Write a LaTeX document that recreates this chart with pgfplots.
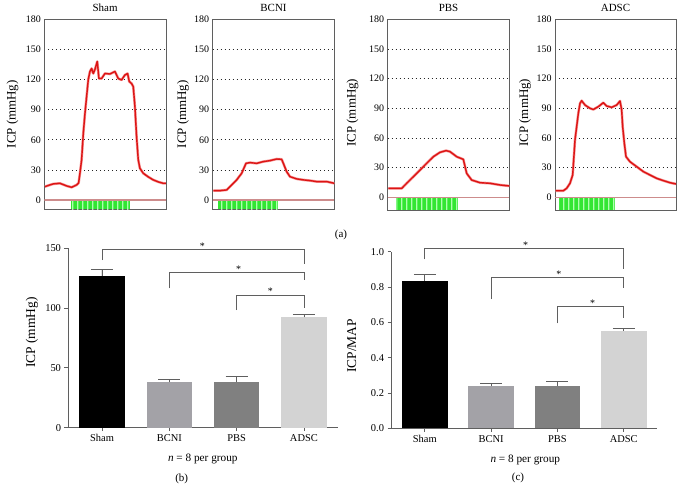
\documentclass[border=0pt]{standalone}
\usepackage{fontspec}
\setmainfont{Liberation Serif}
\usepackage{pgfplots}
\pgfplotsset{compat=1.18}
\usetikzlibrary{patterns}
\definecolor{grn}{RGB}{50,230,50}
\definecolor{grnlt}{RGB}{175,255,175}
\definecolor{halo}{RGB}{245,150,150}
\definecolor{core}{RGB}{220,20,20}
\definecolor{zeroline}{RGB}{205,140,140}
\definecolor{barA}{RGB}{0,0,0}
\definecolor{barB}{RGB}{163,162,167}
\definecolor{barC}{RGB}{128,128,128}
\definecolor{barD}{RGB}{211,211,211}
\definecolor{axg}{RGB}{95,95,95}
\pgfdeclarepatternformonly{vstripes}{\pgfpointorigin}{\pgfqpoint{4.5bp}{1bp}}{\pgfqpoint{4.5bp}{1bp}}{\pgfpathrectangle{\pgfpointorigin}{\pgfqpoint{1.6bp}{1bp}}\pgfusepath{fill}}

\pgfplotstableread{
x y
135 13.3
150 15
160 16
180 16.6
200 14
215 12.6
230 15
236 17
240 26.6
245 40
250 66
255 86
260 103
265 120
270 128
275 131
280 126
285 130
292 138
297 121
305 121
315 126
330 125.5
345 128
355 121
365 119.6
375 124.5
383 126
388 118
395 116
400 113
405 93
410 63
415 40
420 31.5
430 26.6
445 23
460 20
475 18
490 16.6
498 16.6
}\sham
\pgfplotstableread{
x y
130 9.3
150 9.3
170 10
180 13.3
200 20
215 26.6
228 36.5
240 37.2
260 36.5
280 38.2
300 39.2
320 40.8
335 40.5
340 36.5
350 28.2
360 23.2
380 21
400 20
420 19.3
440 18.3
470 18.3
493 16.6
}\bcni
\pgfplotstableread{
x y
145 9.1
185 9.1
200 14.2
220 20.9
240 27.6
260 34.4
280 41.1
300 45.5
318 47.2
330 46.2
350 41.1
370 38.4
380 24.3
395 17.5
420 14.8
450 14.2
480 12.5
508 11.5
}\pbs
\pgfplotstableread{
x y
137 6.7
160 6.7
170 9.1
180 14.2
188 22.6
195 58
200 71.5
205 85
210 95
215 97.7
225 93.3
240 90
250 88.8
265 91.7
280 95.7
290 92.3
305 91
320 93.3
330 97.4
335 88.3
338 71.5
343 54.6
348 41.1
360 36
380 31
400 26
420 22.6
440 19.2
460 16.9
480 14.8
498 13.5
}\adsc

\pgfplotsset{
  tr/.style={
    scale only axis, anchor=south west, width=121.6bp,
    ymax=180, ytick={0,30,60,90,120,150,180},
    xtick=\empty, ymajorgrids,
    grid style={black!85, line width=0.55pt, dash pattern=on 0.6pt off 3.4pt},
    major tick length=0pt,
    axis line style={axg, line width=0.7pt},
    tick label style={font=\fontsize{10}{12}\selectfont},
    title style={font=\fontsize{11}{13}\selectfont, yshift=-2pt},
    ylabel={ICP (mmHg)},
    ylabel style={font=\fontsize{13}{15}\selectfont, anchor=center},
    /pgf/number format/assume math mode=true,
    clip=true,
  },
  hl/.style={draw=halo, line width=2.6pt, line join=round},
  cr/.style={draw=core, line width=1.4pt, line join=round},
  br/.style={
    scale only axis, anchor=south west,
    axis x line*=bottom, axis y line*=left,
    axis line style={-, axg, line width=0.8pt},
    xtick={0,1,2,3}, xticklabels={Sham,BCNI,PBS,ADSC},
    tick align=outside, major tick length=3.5bp,
    tick style={axg, line width=0.8pt},
    tick label style={font=\fontsize{10.5}{12}\selectfont},
    xlabel style={font=\fontsize{11.3}{13}\selectfont},
    ylabel style={font=\fontsize{13.5}{15}\selectfont},
    xlabel={\textit{n} = 8 per group},
    /pgf/number format/assume math mode=true,
    clip=false,
  },
  eb/.style={error bars/.cd, y dir=plus, y explicit,
    error bar style={draw=axg, line width=0.8pt},
    error mark options={draw=axg, rotate=90, mark size=11bp, line width=0.8pt}},
  bb/.style={ybar, bar width=45.5bp, bar shift=0pt, draw=none, fill=#1},
}

\begin{document}
\begin{tikzpicture}
\path[use as bounding box] (0,0) rectangle (684bp,491bp);

% ---- Sham trace
\begin{axis}[tr, at={(44.3bp,281.7bp)}, height=190bp, xmin=133, xmax=498, ymin=-9.3,
  title={Sham}, ylabel style={at={(axis description cs:-0.262,0.5)}}]
\addplot[fill=grn, draw=none] coordinates {(213,-9.3) (213,-0.6) (390,-0.6) (390,-9.3)} -- cycle;
\addplot[pattern=vstripes, pattern color=grnlt, draw=none] coordinates {(214,-9.3) (214,-0.6) (390,-0.6) (390,-9.3)} -- cycle;
\addplot[draw=zeroline, line width=1.4pt] coordinates {(133,0) (498,0)};
\addplot[hl] table {\sham};
\addplot[cr] table {\sham};
\end{axis}

% ---- BCNI trace
\begin{axis}[tr, at={(212.7bp,281.7bp)}, height=190bp, xmin=128, xmax=493, ymin=-9.3,
  title={BCNI}, ylabel style={at={(axis description cs:-0.244,0.5)}}]
\addplot[fill=grn, draw=none] coordinates {(143,-9.3) (143,-0.6) (325,-0.6) (325,-9.3)} -- cycle;
\addplot[pattern=vstripes, pattern color=grnlt, draw=none] coordinates {(144,-9.3) (144,-0.6) (325,-0.6) (325,-9.3)} -- cycle;
\addplot[draw=zeroline, line width=1.4pt] coordinates {(128,0) (493,0)};
\addplot[hl] table {\bcni};
\addplot[cr] table {\bcni};
\end{axis}

% ---- PBS trace
\begin{axis}[tr, at={(387.7bp,281bp)}, height=190.7bp, xmin=143, xmax=508, ymin=-12.8,
  title={PBS}, ylabel style={at={(axis description cs:-0.29,0.51)}}]
\addplot[fill=grn, draw=none] coordinates {(168,-12.8) (168,-0.7) (355,-0.7) (355,-12.8)} -- cycle;
\addplot[pattern=vstripes, pattern color=grnlt, draw=none] coordinates {(169,-12.8) (169,-0.7) (355,-0.7) (355,-12.8)} -- cycle;
\addplot[draw=zeroline, line width=1.4pt] coordinates {(143,0) (508,0)};
\addplot[hl] table {\pbs};
\addplot[cr] table {\pbs};
\end{axis}

% ---- ADSC trace
\begin{axis}[tr, at={(555bp,281bp)}, width=121bp, height=190.7bp, xmin=135, xmax=498, ymin=-12.8,
  title={ADSC}, ylabel style={at={(axis description cs:-0.248,0.51)}}]
\addplot[fill=grn, draw=none] coordinates {(148,-12.8) (148,-0.7) (316,-0.7) (316,-12.8)} -- cycle;
\addplot[pattern=vstripes, pattern color=grnlt, draw=none] coordinates {(149,-12.8) (149,-0.7) (316,-0.7) (316,-12.8)} -- cycle;
\addplot[draw=zeroline, line width=1.4pt] coordinates {(135,0) (498,0)};
\addplot[hl] table {\adsc};
\addplot[cr] table {\adsc};
\end{axis}

\node[font=\fontsize{11}{13}\selectfont] at (341bp,256bp) {(a)};

% ---- (b) ICP bars
\begin{axis}[br, at={(68bp,63.3bp)}, width=269.6bp, height=179.4bp,
  xmin=-0.505, xmax=3.5, ymin=0, ymax=150, ytick={0,50,100,150},
  ylabel={ICP (mmHg)},
  ylabel style={at={(axis description cs:-0.134,0.53)}, anchor=center},
  xlabel style={at={(axis description cs:0.5,-0.174)}, anchor=center}]
\addplot[bb=barA, eb] coordinates {(0,126.8) +- (0,5.6)};
\addplot[bb=barB, eb] coordinates {(1,38.2) +- (0,1.8)};
\addplot[bb=barC, eb] coordinates {(2,37.9) +- (0,5.1)};
\addplot[bb=barD, eb] coordinates {(3,92.3) +- (0,2.2)};
\draw[axg, line width=0.8pt] (axis cs:0,140.2) |- (axis cs:3,149) -- (axis cs:3,136.6);
\draw[axg, line width=0.8pt] (axis cs:1,116.5) |- (axis cs:3,130) -- (axis cs:3,123.5);
\draw[axg, line width=0.8pt] (axis cs:2,98.4) |- (axis cs:3,111) -- (axis cs:3,100.4);
\node[anchor=base, inner sep=0pt, font=\fontsize{10}{12}\selectfont] at (axis cs:1.49,149) {*};
\node[anchor=base, inner sep=0pt, font=\fontsize{10}{12}\selectfont] at (axis cs:2.03,130) {*};
\node[anchor=base, inner sep=0pt, font=\fontsize{10}{12}\selectfont] at (axis cs:2.5,111) {*};
\end{axis}
\node[font=\fontsize{11}{13}\selectfont] at (181.7bp,12bp) {(b)};

% ---- (c) ICP/MAP bars
\begin{axis}[br, at={(391bp,62.7bp)}, width=265.9bp, height=176.6bp,
  xmin=-0.51, xmax=3.5, ymin=0, ymax=1.0, ytick={0,0.2,0.4,0.6,0.8,1.0},
  yticklabel style={/pgf/number format/.cd, fixed, fixed zerofill, precision=1},
  ylabel={ICP/MAP},
  ylabel style={at={(axis description cs:-0.148,0.466)}, anchor=center},
  xlabel style={at={(axis description cs:0.505,-0.18)}, anchor=center}]
\addplot[bb=barA, eb] coordinates {(0,0.834) +- (0,0.037)};
\addplot[bb=barB, eb] coordinates {(1,0.238) +- (0,0.014)};
\addplot[bb=barC, eb] coordinates {(2,0.238) +- (0,0.028)};
\addplot[bb=barD, eb] coordinates {(3,0.551) +- (0,0.013)};
\draw[axg, line width=0.8pt] (axis cs:0,0.956) |- (axis cs:3,1.019) -- (axis cs:3,0.9);
\draw[axg, line width=0.8pt] (axis cs:1,0.732) |- (axis cs:3,0.852) -- (axis cs:3,0.792);
\draw[axg, line width=0.8pt] (axis cs:2,0.594) |- (axis cs:3,0.69) -- (axis cs:3,0.622);
\node[anchor=base, inner sep=0pt, font=\fontsize{10}{12}\selectfont] at (axis cs:1.52,1.019) {*};
\node[anchor=base, inner sep=0pt, font=\fontsize{10}{12}\selectfont] at (axis cs:2.02,0.852) {*};
\node[anchor=base, inner sep=0pt, font=\fontsize{10}{12}\selectfont] at (axis cs:2.53,0.69) {*};
\end{axis}
\node[font=\fontsize{11}{13}\selectfont] at (518bp,13bp) {(c)};
\end{tikzpicture}
\end{document}
